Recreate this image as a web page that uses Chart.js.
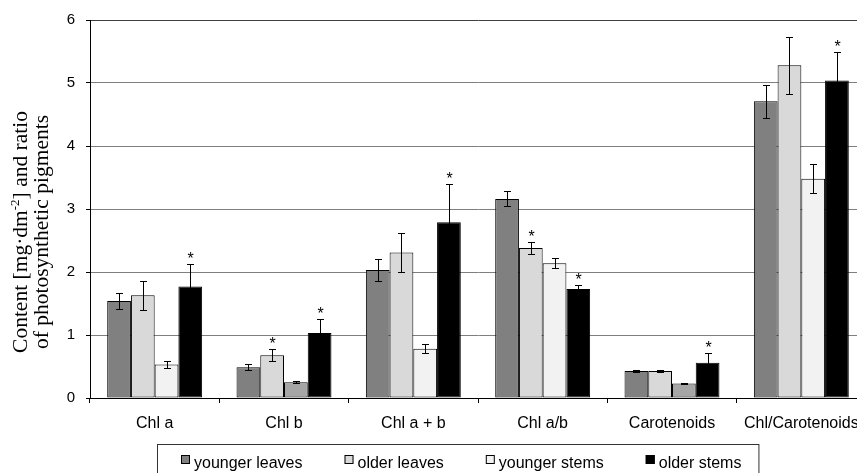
<!DOCTYPE html>
<html>
<head>
<meta charset="utf-8">
<script src="https://cdn.jsdelivr.net/npm/chart.js@4/dist/chart.umd.min.js"></script>
<style>
  html, body { margin: 0; padding: 0; background: #fff; overflow: hidden; }
  canvas { display: block; }
</style>
</head>
<body>
<canvas id="chart" width="880" height="473"></canvas>
<script>
// Photosynthetic pigments by plant part
const categories = ['Chl a', 'Chl b', 'Chl a + b', 'Chl a/b', 'Carotenoids', 'Chl/Carotenoids'];
const seriesNames = ['younger leaves', 'older leaves', 'younger stems', 'older stems'];

const youngerLeaves    = [1.54, 0.49, 2.03, 3.16, 0.43, 4.71];
const youngerLeavesErr = [0.12, 0.05, 0.17, 0.12, 0.02, 0.26];
const olderLeaves      = [1.63, 0.68, 2.31, 2.38, 0.43, 5.28];
const olderLeavesErr   = [0.23, 0.09, 0.31, 0.10, 0.02, 0.45];
const youngerStems     = [0.53, 0.25, 0.78, 2.14, 0.23, 3.48];
const youngerStemsErr  = [0.05, 0.015, 0.07, 0.08, 0.01, 0.23];
const olderStems       = [1.77, 1.03, 2.79, 1.73, 0.56, 5.04];
const olderStemsErr    = [0.36, 0.23, 0.60, 0.07, 0.16, 0.46];

// significance marks (*)
const youngerLeavesSig = [false, false, false, false, false, false];
const olderLeavesSig   = [false, true, false, true, false, false];
const youngerStemsSig  = [false, false, false, false, false, false];
const olderStemsSig    = [true, true, true, true, true, true];

const yTicks = [0, 1, 2, 3, 4, 5, 6];

const seriesColors = ['#808080', '#d9d9d9', '#f2f2f2', '#000000'];
const youngerStemsFill = ['#f2f2f2', '#a6a6a6', '#f2f2f2', '#f2f2f2', '#a6a6a6', '#f2f2f2'];

const FONT = "'Liberation Sans', Arial, sans-serif";
const SERIF = "'Liberation Serif', 'Times New Roman', serif";

const errorBars = {
  id: 'errorBars',
  afterDatasetsDraw(chart) {
    const ctx = chart.ctx;
    const ys = chart.scales.y;
    ctx.save();
    chart.data.datasets.forEach((ds, i) => {
      const meta = chart.getDatasetMeta(i);
      meta.data.forEach((bar, j) => {
        const v = ds.data[j], e = ds.errors[j];
        const x = Math.round(bar.x) + 0.5;
        const yt = Math.round(ys.getPixelForValue(v + e)) + 0.5;
        const yb = Math.round(ys.getPixelForValue(v - e)) + 0.5;
        ctx.strokeStyle = '#000';
        ctx.lineWidth = 1;
        ctx.beginPath();
        ctx.moveTo(x, yt); ctx.lineTo(x, yb);
        ctx.moveTo(x - 3.5, yt); ctx.lineTo(x + 3.5, yt);
        ctx.moveTo(x - 3.5, yb); ctx.lineTo(x + 3.5, yb);
        ctx.stroke();
        if (ds.sig[j]) {
          ctx.fillStyle = '#000';
          ctx.font = '16px ' + FONT;
          ctx.textAlign = 'center';
          ctx.textBaseline = 'alphabetic';
          ctx.fillText('*', x, yt - 10 + 9);
        }
      });
    });
    ctx.restore();
  }
};

function drawRuns(ctx, runs) {
  let total = 0;
  runs.forEach(r => { ctx.font = r.font; total += ctx.measureText(r.text).width; });
  let x = -total / 2;
  runs.forEach(r => {
    ctx.font = r.font;
    ctx.fillText(r.text, x, r.dy || 0);
    x += ctx.measureText(r.text).width;
  });
}

const decorations = {
  id: 'decorations',
  afterDraw(chart) {
    const ctx = chart.ctx;
    ctx.save();
    // rotated axis title
    const big = '21.5px ' + SERIF, small = '13px ' + SERIF;
    ctx.fillStyle = '#000';
    ctx.textAlign = 'left';
    ctx.textBaseline = 'alphabetic';
    ctx.save();
    ctx.translate(26.5, 232);
    ctx.rotate(-Math.PI / 2);
    drawRuns(ctx, [
      { text: 'Content [mg\u00b7dm', font: big },
      { text: '-2', font: small, dy: -8 },
      { text: '] and ratio', font: big }
    ]);
    ctx.restore();
    ctx.save();
    ctx.translate(48, 232);
    ctx.rotate(-Math.PI / 2);
    drawRuns(ctx, [{ text: 'of photosynthetic pigments', font: big }]);
    ctx.restore();

    // legend
    ctx.font = '16px ' + FONT;
    const sw = 9, gapText = 4, gapItem = 42;
    const widths = seriesNames.map(n => ctx.measureText(n).width);
    const total = widths.reduce((a, w) => a + sw + gapText + w, 0) + gapItem * (seriesNames.length - 1);
    let x = Math.round(461.5 - total / 2);
    const boxLeft = x - 24, boxRight = x + total + 17;
    ctx.strokeStyle = '#333';
    ctx.lineWidth = 1;
    ctx.strokeRect(boxLeft + 0.5, 444.5, boxRight - boxLeft, 40);
    ctx.textBaseline = 'alphabetic';
    seriesNames.forEach((n, i) => {
      ctx.fillStyle = seriesColors[i];
      ctx.fillRect(x, 455, sw, sw);
      ctx.strokeStyle = '#000';
      ctx.strokeRect(x + 0.5, 455.5, sw - 1, sw - 1);
      ctx.fillStyle = '#000';
      ctx.fillText(n, x + sw + gapText, 467.5);
      x += sw + gapText + widths[i] + gapItem;
    });
    ctx.restore();
  }
};

const makeSet = (label, data, errors, sig, fill) => ({
  label, data, errors, sig,
  backgroundColor: fill,
  borderColor: '#000',
  borderWidth: 1,
  borderSkipped: false,
  categoryPercentage: 0.734,
  barPercentage: 1.0
});

new Chart(document.getElementById('chart'), {
  type: 'bar',
  data: {
    labels: categories,
    datasets: [
      makeSet(seriesNames[0], youngerLeaves, youngerLeavesErr, youngerLeavesSig, seriesColors[0]),
      makeSet(seriesNames[1], olderLeaves, olderLeavesErr, olderLeavesSig, seriesColors[1]),
      makeSet(seriesNames[2], youngerStems, youngerStemsErr, youngerStemsSig, youngerStemsFill),
      makeSet(seriesNames[3], olderStems, olderStemsErr, olderStemsSig, seriesColors[3])
    ]
  },
  options: {
    responsive: false,
    animation: false,
    devicePixelRatio: 1,
    layout: { padding: { left: 0, right: 14, top: 20, bottom: 0 } },
    plugins: { legend: { display: false }, tooltip: { enabled: false } },
    scales: {
      x: {
        offset: true,
        grid: { display: true, drawOnChartArea: false, drawTicks: true, tickLength: 5, tickColor: '#000', offset: true },
        border: { color: '#000', width: 1 },
        ticks: { color: '#000', font: { family: FONT, size: 16 }, padding: 11, maxRotation: 0, autoSkip: false },
        afterFit(scale) { scale.height = 75; }
      },
      y: {
        min: 0, max: 6,
        afterBuildTicks(scale) { scale.ticks = yTicks.map(v => ({ value: v })); },
        grid: {
          color: ctx => (ctx.tick && ctx.tick.value === 6) ? '#404040' : (ctx.tick && ctx.tick.value === 0 ? '#000' : '#7f7f7f'),
          lineWidth: 1,
          tickLength: 4,
          tickColor: '#000'
        },
        border: { color: '#000', width: 1 },
        ticks: { color: '#000', font: { family: FONT, size: 15 }, padding: 11 },
        afterFit(scale) { scale.width = 90; }
      }
    }
  },
  plugins: [errorBars, decorations]
});
</script>
</body>
</html>
